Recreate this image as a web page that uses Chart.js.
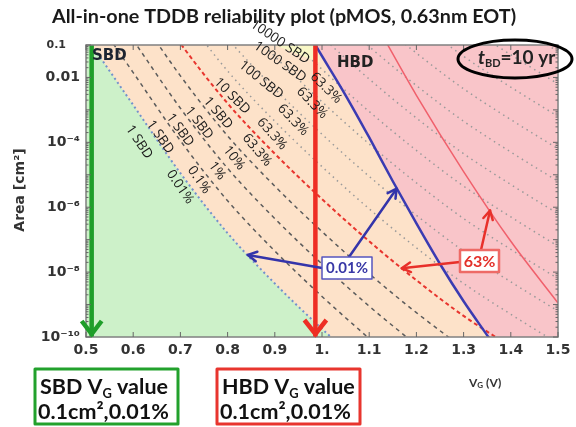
<!DOCTYPE html>
<html>
<head>
<meta charset="utf-8">
<script src="https://cdn.jsdelivr.net/npm/chart.js@4.4.1/dist/chart.umd.min.js"></script>
<style>
  html, body { margin: 0; padding: 0; background: #fff; }
  canvas { display: block; }
</style>
</head>
<body>
<canvas id="tddb" width="576" height="427"></canvas>
<script>
// gate voltage grid shared by the iso-failure curves (V)
const vGate = [0.5, 0.6, 0.7, 0.8, 0.9, 1.0, 1.1, 1.2, 1.3, 1.4, 1.5];

// log10(area / cm^2) reaching the failure level after 10 yr, one value per vGate (null = off plot)
// single soft breakdown, percentiles 0.01 / 0.1 / 1 / 10 / 63.3 %
const sbd1_001 = [-0.75, -2.85, -4.95, -6.8, -8.35, -9.75, -11.05, null, null, null, null];
const sbd1_01 = [0.25, -1.85, -3.95, -5.8, -7.35, -8.75, -10.05, null, null, null, null];
const sbd1_1 = [null, -0.85, -2.95, -4.8, -6.35, -7.75, -9.05, -10.25, null, null, null];
const sbd1_10 = [null, 0.15, -1.95, -3.8, -5.35, -6.75, -8.05, -9.25, -10.35, null, null];
const sbd1_63 = [null, 1.15, -0.95, -2.8, -4.35, -5.75, -7.05, -8.25, -9.35, -10.3, null];
// 63.3 % of multiple soft breakdowns (10, 100, ... SBD per device)
const sbd10_63 = [null, null, 0.05, -1.8, -3.35, -4.75, -6.05, -7.25, -8.35, -9.3, -10.2];
const sbd100_63 = [null, null, 1.05, -0.8, -2.35, -3.75, -5.05, -6.25, -7.35, -8.3, -9.2];
const sbd1e3_63 = [null, null, null, 0.2, -1.35, -2.75, -4.05, -5.25, -6.35, -7.3, -8.2];
const sbd1e4_63 = [null, null, null, 1.2, -0.35, -1.75, -3.05, -4.25, -5.35, -6.3, -7.2];
const sbd1e5_63 = [null, null, null, null, 0.65, -0.75, -2.05, -3.25, -4.35, -5.3, -6.2];
const sbd1e6_63 = [null, null, null, null, null, 0.25, -1.05, -2.25, -3.35, -4.3, -5.2];
const sbd1e7_63 = [null, null, null, null, null, 1.25, -0.05, -1.25, -2.35, -3.3, -4.2];
const sbd1e8_63 = [null, null, null, null, null, null, 0.95, -0.25, -1.35, -2.3, -3.2];
const sbd1e9_63 = [null, null, null, null, null, null, null, 0.75, -0.35, -1.3, -2.2];
const sbd1e10_63 = [null, null, null, null, null, null, null, null, 0.65, -0.3, -1.2];

// hard breakdown curves
const hbdV_001 = [0.97, 0.986, 1.05, 1.1, 1.15, 1.2, 1.25, 1.3, 1.35, 1.4, 1.5];
const hbd_001 = [-0.6, -1.0, -2.55, -3.85, -5.2, -6.5, -7.75, -8.9, -9.95, -11.0, -13.0];
const hbdV_63 = [1.12, 1.2, 1.3, 1.4, 1.5];
const hbd_63 = [-0.5, -2.55, -4.9, -7.05, -8.95];

// small high-SBD-count patch under the top edge
const patchV = [0.9, 0.995];
const patchA = [-1.0, -1.55];

// gate voltage picked at 0.1 cm^2, 0.01 %
const sbdPickV = 0.512;
const hbdPickV = 0.986;

// axis ticks
const xTickValues = [0.5, 0.6, 0.7, 0.8, 0.9, 1.0, 1.1, 1.2, 1.3, 1.4, 1.5];
const xTickLabels = ['0.5', '0.6', '0.7', '0.8', '0.9', '1.', '1.1', '1.2', '1.3', '1.4', '1.5'];
const yTickExp = [-10, -8, -6, -4, -2, -1];
const yTickLabels = ['10⁻¹⁰', '10⁻⁸', '10⁻⁶', '10⁻⁴', '0.01', '0.1'];

function pts(vs, es) {
    const out = [];
    vs.forEach((v, i) => {
        if (es[i] !== null) out.push({ x: v, y: Math.pow(10, es[i]) });
    });
    return out;
}

function curve(data, color, width, dash, extra) {
    return Object.assign({
        data: data,
        showLine: true,
        borderColor: color,
        borderWidth: width,
        borderDash: dash,
        pointRadius: 0,
        cubicInterpolationMode: 'monotone',
        fill: false
    }, extra || {});
}

const darkDash = [4, 4];
const lightDot = [1.5, 4];
const grey = '#9a9a9a';

const datasets = [
    curve([{ x: sbdPickV, y: 0.1 }, { x: sbdPickV, y: 1e-10 }], '#1f9e2a', 4.5, [], { order: 0, cubicInterpolationMode: 'default' }),
    curve([{ x: hbdPickV, y: 0.1 }, { x: hbdPickV, y: 1e-10 }], '#ee2e24', 4.5, [], { order: 0, cubicInterpolationMode: 'default' }),
    curve(pts(hbdV_001, hbd_001), '#3b3bb2', 2.5, [], { order: 1, fill: 'end', backgroundColor: '#f9c5c9' }),
    curve(pts(hbdV_63, hbd_63), '#f0606c', 1.5, [], { order: 1 }),
    curve(pts(vGate, sbd1_63), '#e8352e', 2, [4, 3], { order: 2 }),
    curve(pts(vGate, sbd1_001), '#7390cc', 2, [2, 3], { order: 2, fill: 'start', backgroundColor: '#cdf1c9' }),
    curve(pts(vGate, sbd1_01), '#5c5c5c', 1.5, darkDash, { order: 3 }),
    curve(pts(vGate, sbd1_1), '#5c5c5c', 1.5, darkDash, { order: 3 }),
    curve(pts(vGate, sbd1_10), '#5c5c5c', 1.5, darkDash, { order: 3 }),
    curve(pts(vGate, sbd10_63), grey, 1.5, lightDot, { order: 4 }),
    curve(pts(vGate, sbd100_63), grey, 1.5, lightDot, { order: 4 }),
    curve(pts(vGate, sbd1e3_63), grey, 1.5, lightDot, { order: 4 }),
    curve(pts(vGate, sbd1e4_63), grey, 1.5, lightDot, { order: 4 }),
    curve(pts(vGate, sbd1e5_63), grey, 1.5, lightDot, { order: 4 }),
    curve(pts(vGate, sbd1e6_63), grey, 1.5, lightDot, { order: 4 }),
    curve(pts(vGate, sbd1e7_63), grey, 1.5, lightDot, { order: 4 }),
    curve(pts(vGate, sbd1e8_63), grey, 1.5, lightDot, { order: 4 }),
    curve(pts(vGate, sbd1e9_63), grey, 1.5, lightDot, { order: 4 }),
    curve(pts(vGate, sbd1e10_63), grey, 1.5, lightDot, { order: 4 }),
    curve(pts(patchV, patchA), 'rgba(0,0,0,0)', 0, [], { order: 5, fill: 'end', backgroundColor: '#f8f7c6', cubicInterpolationMode: 'default' })
];

// rotated curve labels: text, centre x, centre y, angle (deg)
const curveLabels = [
    ['1 SBD', 139, 142, 56], ['0.01%', 180, 187, 56],
    ['1 SBD', 160, 137, 55], ['0.1%', 199, 180, 55],
    ['1 SBD', 180, 130, 54], ['1%', 217, 171, 54],
    ['1 SBD', 199, 123, 52], ['10%', 234, 158, 52],
    ['1 SBD', 218, 113, 50], ['63.3%', 257, 150, 50],
    ['10 SBD', 232, 96, 45], ['63.3%', 272, 134, 48],
    ['100 SBD', 261, 80, 39], ['63.3%', 293, 120, 46],
    ['1000 SBD', 280, 62, 35], ['63.3%', 312, 103, 46],
    ['10000 SBD', 280, 42, 34], ['63.3%', 326, 88, 44]
];

function arrow(ctx, x1, y1, x2, y2, color, w, head) {
    const ang = Math.atan2(y2 - y1, x2 - x1);
    ctx.strokeStyle = color;
    ctx.lineWidth = w;
    ctx.lineCap = 'round';
    ctx.lineJoin = 'round';
    ctx.beginPath();
    ctx.moveTo(x1, y1);
    ctx.lineTo(x2, y2);
    ctx.stroke();
    ctx.beginPath();
    ctx.moveTo(x2 - head * Math.cos(ang - 0.5), y2 - head * Math.sin(ang - 0.5));
    ctx.lineTo(x2, y2);
    ctx.lineTo(x2 - head * Math.cos(ang + 0.5), y2 - head * Math.sin(ang + 0.5));
    ctx.stroke();
}

function chevronDown(ctx, x, y, half, len, color) {
    ctx.strokeStyle = color;
    ctx.lineWidth = 4.5;
    ctx.lineCap = 'butt';
    ctx.lineJoin = 'miter';
    ctx.beginPath();
    ctx.moveTo(x - half, y - len);
    ctx.lineTo(x, y);
    ctx.lineTo(x + half, y - len);
    ctx.stroke();
}

// draw consecutive text runs (for subscripts), returns end x
function runs(ctx, x, y, parts) {
    parts.forEach(p => {
        ctx.font = p[1];
        ctx.fillText(p[0], x, y + (p[2] || 0));
        x += ctx.measureText(p[0]).width;
    });
    return x;
}

function fitSize(ctx, text, weight, family, width, start) {
    let s = start;
    ctx.font = weight + ' ' + s + 'px ' + family;
    while (ctx.measureText(text).width > width && s > 8) {
        s -= 0.25;
        ctx.font = weight + ' ' + s + 'px ' + family;
    }
    return s;
}

const overlay = {
    id: 'overlay',
    beforeDraw(chart) {
        const { ctx, chartArea: a } = chart;
        ctx.save();
        ctx.fillStyle = '#fde2c9';
        ctx.fillRect(a.left, a.top, a.right - a.left, a.bottom - a.top);
        ctx.restore();
    },
    afterDraw(chart) {
        const { ctx, chartArea: a } = chart;
        const xs = chart.scales.x, ys = chart.scales.y;
        const P = (v, e) => [xs.getPixelForValue(v), ys.getPixelForValue(Math.pow(10, e))];
        ctx.save();

        // frame and inner ticks
        ctx.strokeStyle = '#808080';
        ctx.lineWidth = 1.5;
        ctx.strokeRect(a.left, a.top, a.right - a.left, a.bottom - a.top);
        ctx.lineWidth = 1;
        ctx.strokeStyle = '#666';
        ctx.beginPath();
        xTickValues.forEach(v => {
            const x = xs.getPixelForValue(v);
            ctx.moveTo(x, a.bottom); ctx.lineTo(x, a.bottom - 5);
            ctx.moveTo(x, a.top); ctx.lineTo(x, a.top + 5);
        });
        for (let e = -10; e <= -1; e++) {
            const y = ys.getPixelForValue(Math.pow(10, e));
            ctx.moveTo(a.left, y); ctx.lineTo(a.left + 5, y);
            ctx.moveTo(a.right, y); ctx.lineTo(a.right - 5, y);
            if (e < -1) {
                for (let m = 2; m <= 9; m++) {
                    const ym = ys.getPixelForValue(m * Math.pow(10, e));
                    ctx.moveTo(a.left, ym); ctx.lineTo(a.left + 2.5, ym);
                    ctx.moveTo(a.right, ym); ctx.lineTo(a.right - 2.5, ym);
                }
            }
        }
        ctx.stroke();

        // top tick label sits further left than the others
        ctx.fillStyle = '#333';
        ctx.font = 'bold 11px "DejaVu Sans"';
        ctx.textAlign = 'right';
        ctx.textBaseline = 'middle';
        ctx.fillText(yTickLabels[yTickLabels.length - 1], 66, ys.getPixelForValue(0.1));

        // arrow heads on the picked-voltage markers
        chevronDown(ctx, xs.getPixelForValue(sbdPickV), a.bottom - 3, 10, 13, '#1f9e2a');
        chevronDown(ctx, xs.getPixelForValue(hbdPickV), a.bottom - 3, 11, 14, '#ee2e24');

        // curve labels
        ctx.fillStyle = '#1b1b1b';
        ctx.textAlign = 'center';
        ctx.textBaseline = 'middle';
        ctx.font = '13.5px "Open Sans"';
        curveLabels.forEach(l => {
            ctx.save();
            ctx.translate(l[1], l[2]);
            ctx.rotate(l[3] * Math.PI / 180);
            ctx.fillText(l[0], 0, 0);
            ctx.restore();
        });

        // region names
        ctx.textAlign = 'left';
        ctx.fillStyle = '#1d2430';
        ctx.font = 'bold 15px "DejaVu Sans"';
        ctx.fillText('SBD', a.left + 6, a.top + 11);
        ctx.fillStyle = '#222';
        ctx.fillText('HBD', 337, a.top + 18);

        // 0.01 % call-out
        let t1 = P(0.843, -7.47), t2 = P(1.158, -5.43);
        arrow(ctx, 322, 268, t1[0], t1[1], '#3434aa', 2.5, 10);
        arrow(ctx, 349, 257, t2[0], t2[1], '#3434aa', 2.5, 10);
        ctx.fillStyle = '#fff';
        ctx.fillRect(322, 257, 50, 22);
        ctx.strokeStyle = '#5656bf';
        ctx.lineWidth = 1.5;
        ctx.strokeRect(322, 257, 50, 22);
        ctx.fillStyle = '#3838a6';
        ctx.font = 'bold 15px Lato';
        ctx.textAlign = 'center';
        ctx.fillText('0.01%', 347, 268.5);

        // 63 % call-out
        t1 = P(1.169, -7.88); t2 = P(1.356, -6.1);
        arrow(ctx, 460, 262, t1[0], t1[1], '#e8302a', 2.5, 10);
        arrow(ctx, 481, 250, t2[0], t2[1], '#e8302a', 2.5, 10);
        ctx.fillStyle = '#fff';
        ctx.fillRect(460, 250, 39, 22);
        ctx.strokeStyle = '#ee6a66';
        ctx.strokeRect(460, 250, 39, 22);
        ctx.fillStyle = '#e3302a';
        ctx.font = 'bold 16px Lato';
        ctx.fillText('63%', 479.5, 261.5);

        // lifetime tag
        ctx.strokeStyle = '#000';
        ctx.lineWidth = 3;
        ctx.beginPath();
        ctx.ellipse(515, 59, 57, 19, 0, 0, Math.PI * 2);
        ctx.stroke();
        ctx.fillStyle = '#222';
        ctx.textAlign = 'left';
        ctx.textBaseline = 'alphabetic';
        runs(ctx, 478, 64, [
            ['t', 'italic bold 19px Lato'],
            ['BD', 'bold 11px Lato', 3],
            ['=10 yr', 'bold 19px Lato']
        ]);

        // title
        ctx.textAlign = 'center';
        const title = 'All-in-one TDDB reliability plot (pMOS, 0.63nm EOT)';
        fitSize(ctx, title, 'bold', 'Lato', 466, 20);
        ctx.fillStyle = '#1a1a1a';
        ctx.fillText(title, 284, 23);

        // axis titles
        ctx.save();
        ctx.translate(19, 190);
        ctx.rotate(-Math.PI / 2);
        ctx.font = 'bold 14px "DejaVu Sans"';
        ctx.fillStyle = '#333';
        ctx.fillText('Area [cm²]', 0, 5);
        ctx.restore();
        ctx.textAlign = 'left';
        ctx.fillStyle = '#333';
        runs(ctx, 469, 387, [
            ['V', 'bold 12px Lato'],
            ['G', 'bold 8px Lato', 1],
            [' (V)', 'bold 12px Lato']
        ]);

        // picked-value boxes
        const boxes = [
            ['SBD', 35, '#22a12c'],
            ['HBD', 217, '#e8352e']
        ];
        boxes.forEach(b => {
            ctx.strokeStyle = b[2];
            ctx.lineWidth = 3;
            ctx.strokeRect(b[1], 369, 143, 55);
            ctx.fillStyle = '#111';
            const s = fitSize(ctx, '0.1cm²,0.01%', 'bold', 'Lato', 132, 26);
            runs(ctx, b[1] + 5, 394, [
                [b[0] + ' V', 'bold ' + s + 'px Lato'],
                ['G', 'bold ' + (s * 0.6) + 'px Lato', 4],
                [' value', 'bold ' + s + 'px Lato']
            ]);
            ctx.font = 'bold ' + s + 'px Lato';
            ctx.fillText('0.1cm²,0.01%', b[1] + 3, 419);
        });

        ctx.restore();
    }
};

new Chart(document.getElementById('tddb'), {
    type: 'scatter',
    data: { datasets: datasets },
    plugins: [overlay],
    options: {
        responsive: false,
        animation: false,
        layout: { padding: { left: 0, right: 18, top: 45, bottom: 0 } },
        plugins: {
            legend: { display: false },
            tooltip: { enabled: false },
            filler: { drawTime: 'beforeDatasetsDraw' }
        },
        scales: {
            x: {
                type: 'linear',
                min: 0.5,
                max: 1.5,
                grid: { display: false, drawTicks: false },
                border: { display: false },
                afterBuildTicks: s => { s.ticks = xTickValues.map(v => ({ value: v })); },
                afterFit: s => { s.height = 90; },
                ticks: {
                    padding: 5,
                    autoSkip: false,
                    maxRotation: 0,
                    color: '#333',
                    font: { family: 'DejaVu Sans', weight: 'bold', size: 14 },
                    callback: (v, i) => xTickLabels[i]
                }
            },
            y: {
                type: 'logarithmic',
                min: 1e-10,
                max: 0.1,
                grid: { display: false, drawTicks: false },
                border: { display: false },
                afterBuildTicks: s => { s.ticks = yTickExp.map(e => ({ value: Math.pow(10, e) })); },
                afterFit: s => { s.width = 86; },
                ticks: {
                    padding: 6,
                    autoSkip: false,
                    color: '#333',
                    font: { family: 'DejaVu Sans', weight: 'bold', size: 14 },
                    // 0.1 is drawn separately, further left
                    callback: (v, i) => (i === yTickLabels.length - 1 ? '' : yTickLabels[i])
                }
            }
        }
    }
});
</script>
</body>
</html>
